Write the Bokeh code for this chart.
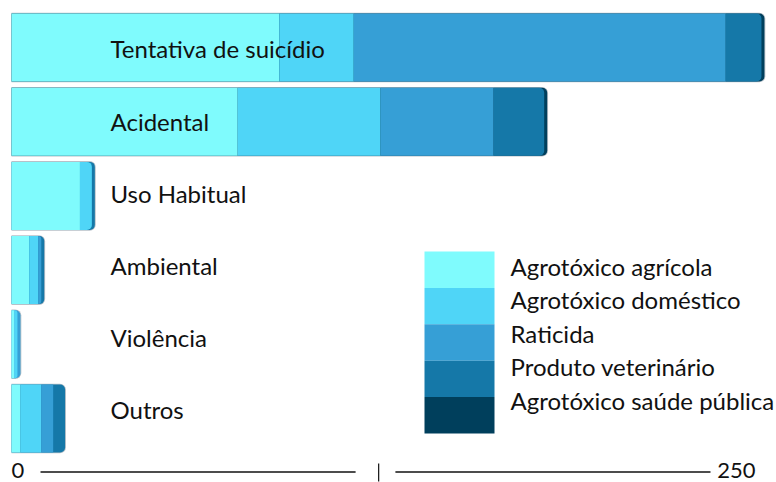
from bokeh.plotting import figure
from bokeh.models import Range1d
from bokeh.core.properties import value
from bokeh.embed import file_html
from bokeh.resources import INLINE

# ---------------- data ----------------
categories = ["Tentativa de suicídio", "Acidental", "Uso Habitual", "Ambiental", "Violência", "Outros"]
series = ["Agrotóxico agrícola", "Agrotóxico doméstico", "Raticida", "Produto veterinário", "Agrotóxico saúde pública"]
colors = ["#7ffbfd", "#4fd5f7", "#369fd6", "#1578a8", "#003f5c"]

agricola = [90, 76, 23, 6, 1, 3]
domestico = [25, 48, 4, 3, 1, 7]
raticida = [125, 38, 0, 1, 1, 4]
veterinario = [12, 17, 1, 1, 0, 4]
saude_publica = [1, 1, 0, 0, 0, 0]

axis_ticks = [0, 250]
axis_labels = ["0", "250"]

values = [agricola, domestico, raticida, veterinario, saude_publica]

# ---------------- layout ----------------
W, H = 776, 482
X0_PX = 11.0
PX_PER_UNIT = 2.976
BAND = 74.2
FIRST_CENTER = 47.0
BAR_PX = 68.0
RADIUS = 5
FONT = "Lato"
TXT = "#111111"
BASE_FIX = 0.41  # empirical baseline correction (fraction of font size)
LABEL_BASE0, LABEL_PITCH = 58.3, 72.2

p = figure(width=W, height=H, output_backend="svg", toolbar_location=None, tools="",
           x_range=Range1d(-X0_PX / PX_PER_UNIT, (W - X0_PX) / PX_PER_UNIT),
           y_range=Range1d((H - FIRST_CENTER) / BAND, -FIRST_CENTER / BAND),
           x_axis_type=None, y_axis_type=None, min_border=0)
p.extra_x_ranges = {"px": Range1d(0, W)}
p.extra_y_ranges = {"px": Range1d(H, 0)}
p.grid.visible = False
p.outline_line_color = None

n = len(categories)
ypos = list(range(n))
h = BAR_PX / BAND
totals = [sum(v[i] for v in values) for i in range(n)]
last = [max(k for k in range(len(values)) if values[k][i] > 0) for i in range(n)]
r_units = RADIUS / PX_PER_UNIT

# faint outline / shadow
p.hbar(y=ypos, left=0, right=[t + 0.3 for t in totals], height=h + 1.6 / BAND,
       fill_color="#b7c0c8", line_color=None, border_radius=(0, RADIUS + 1, RADIUS + 1, 0))
# full bar in colour of its outermost series
p.hbar(y=ypos, left=0, right=totals, height=h,
       fill_color=[colors[last[i]] for i in range(n)], line_color=None,
       border_radius=(0, RADIUS, RADIUS, 0))

cum = [0] * n
for k, (vals, col) in enumerate(zip(values, colors)):
    left = cum[:]
    right = [c + v for c, v in zip(cum, vals)]
    sq = [i for i in range(n) if vals[i] > 0 and last[i] != k and totals[i] - right[i] >= r_units]
    rd = [i for i in range(n) if vals[i] > 0 and last[i] != k and totals[i] - right[i] < r_units]
    if sq:
        p.hbar(y=[ypos[i] for i in sq], left=[left[i] for i in sq], right=[right[i] for i in sq],
               height=h, fill_color=col, line_color=None)
    if rd:
        p.hbar(y=[ypos[i] for i in rd], left=[left[i] for i in rd], right=[right[i] for i in rd],
               height=h, fill_color=col, line_color=None, border_radius=(0, RADIUS, RADIUS, 0))
    cum = right

# category labels
p.text(x=[0] * n, y=[LABEL_BASE0 + LABEL_PITCH * i - BASE_FIX * 24 for i in ypos], text=categories,
       x_offset=99, text_font=value(FONT), text_font_size="24px", text_color=TXT,
       text_align="left", text_baseline="alphabetic", y_range_name="px")

# legend (pixel frame)
LX0, LX1, LY0, LROW, LTXT_PITCH = 424, 494, 251, 36.4, 33.5
m = len(series)
p.quad(left=LX0, right=LX1,
       top=[LY0 + LROW * k for k in range(m)], bottom=[LY0 + LROW * (k + 1) for k in range(m)],
       fill_color=colors, line_color=None, x_range_name="px", y_range_name="px")
p.text(x=[510] * m, y=[LY0 + LROW * 0.5 + 6.5 + LTXT_PITCH * k - BASE_FIX * 24 for k in range(m)],
       text=series, text_font=value(FONT), text_font_size="24px", text_color=TXT,
       text_align="left", text_baseline="alphabetic", x_range_name="px", y_range_name="px")

# custom x axis row
AX_BASE = 479  # visual baseline of tick labels
AX_LINE = 471.5
span = axis_ticks[-1] - axis_ticks[0]
p.text(x=axis_ticks, y=[AX_BASE - BASE_FIX * 22] * 2, text=axis_labels, text_align=["left", "right"],
       text_font=value(FONT), text_font_size="22px", text_color=TXT, text_baseline="alphabetic",
       y_range_name="px")
seg_x0 = [axis_ticks[0] + span * f for f in (0.039, 0.516)]
seg_x1 = [axis_ticks[0] + span * f for f in (0.4625, 0.9395)]
p.segment(x0=seg_x0, x1=seg_x1, y0=[AX_LINE] * 2, y1=[AX_LINE] * 2,
          line_color=TXT, line_width=1.5, y_range_name="px")
mid = axis_ticks[0] + span * 0.4935
p.segment(x0=[mid], x1=[mid], y0=[463], y1=[481], line_color=TXT, line_width=1.2, y_range_name="px")

open("out.html", "w").write(file_html(p, INLINE))
